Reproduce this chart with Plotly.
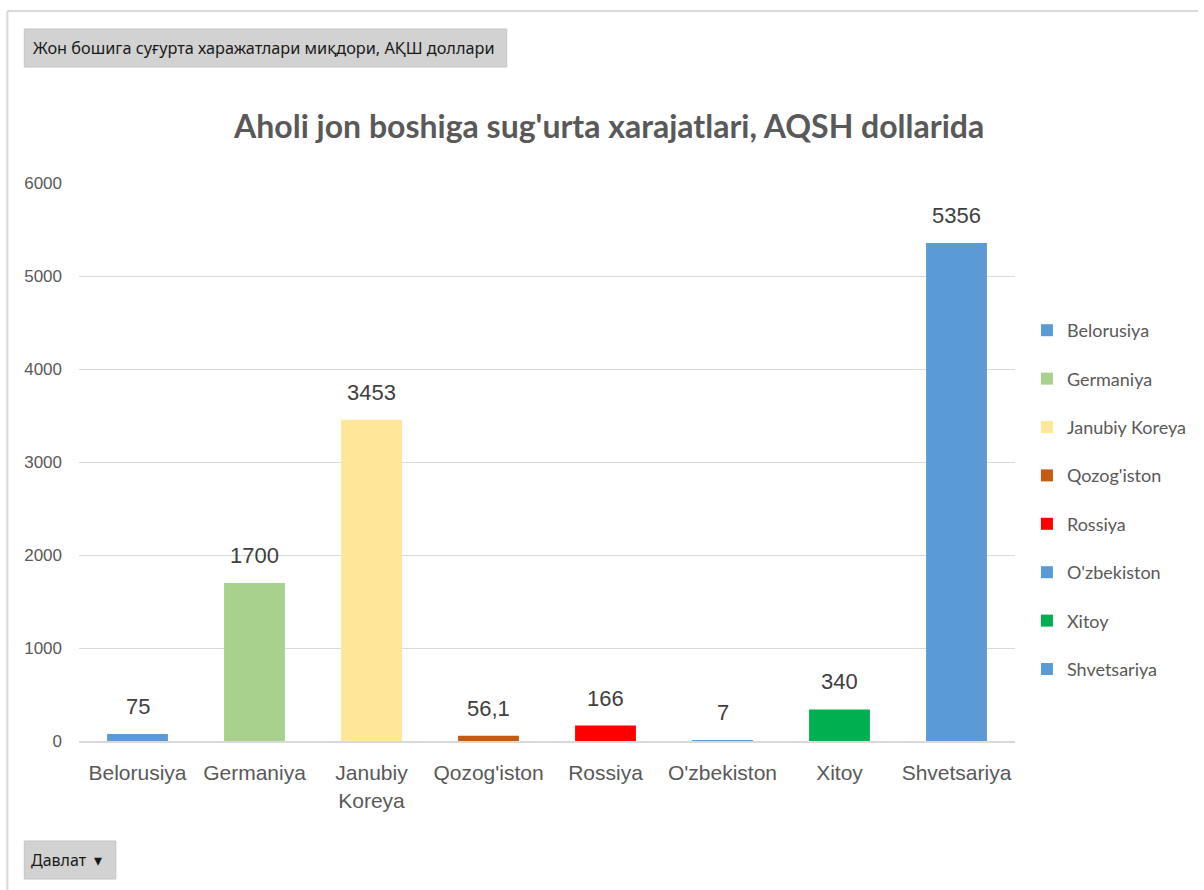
import plotly.graph_objects as go

countries = ["Belorusiya", "Germaniya", "Janubiy Koreya", "Qozog'iston", "Rossiya",
             "O'zbekiston", "Xitoy", "Shvetsariya"]
tick_labels = ["Belorusiya", "Germaniya", "Janubiy<br>Koreya", "Qozog'iston", "Rossiya",
               "O'zbekiston", "Xitoy", "Shvetsariya"]
values = [75, 1700, 3453, 56.1, 166, 7, 340, 5356]
value_labels = ["75", "1700", "3453", "56,1", "166", "7", "340", "5356"]
colors = ["#5b9bd5", "#a9d18e", "#ffe699", "#c55a11", "#ff0000", "#5b9bd5", "#00b050", "#5b9bd5"]

W, H = 1204, 890
L, R, T, B = 79, 184, 183, 149
PW, PH = W - L - R, H - T - B


def px(x):
    return (x - L) / PW


def py(y):
    return (H - B - y) / PH


fig = go.Figure()
for i, c in enumerate(countries):
    fig.add_trace(go.Bar(
        x=[c], y=[values[i]], name=c, legendgroup=c,
        marker=dict(color=colors[i], line=dict(width=0)),
        width=0.52, hoverinfo="x+y",
    ))

annotations = []
for i, c in enumerate(countries):
    annotations.append(dict(
        x=c, y=values[i], xref="x", yref="y", text=value_labels[i],
        showarrow=False, yanchor="bottom", yshift=13,
        font=dict(family="Liberation Sans, Arial", size=22, color="#404040"),
    ))

annotations.append(dict(
    x=px(31), y=py(48), xref="paper", yref="paper", xanchor="left", yanchor="middle",
    text="Жон бошига суғурта харажатлари миқдори, АҚШ доллари", showarrow=False,
    font=dict(family="Liberation Sans Narrow, Arial Narrow, Noto Sans", size=16.3, color="#1a1a1a"),
))
annotations.append(dict(
    x=px(29), y=py(860), xref="paper", yref="paper", xanchor="left", yanchor="middle",
    text="Давлат  ▾", showarrow=False,
    font=dict(family="Liberation Sans Narrow, Arial Narrow, Noto Sans", size=16, color="#1a1a1a"),
))

shapes = [
    dict(type="rect", xref="paper", yref="paper", x0=px(24), x1=px(509), y0=py(29), y1=py(67),
         fillcolor="#d2d2d2", line=dict(color="#c4c4c4", width=1), layer="below"),
    dict(type="rect", xref="paper", yref="paper", x0=px(24), x1=px(116), y0=py(841), y1=py(879),
         fillcolor="#d2d2d2", line=dict(color="#c4c4c4", width=1), layer="below"),
    dict(type="line", xref="paper", yref="paper", x0=px(7), x1=px(1204), y0=py(11), y1=py(11),
         line=dict(color="#d9d9d9", width=2)),
    dict(type="line", xref="paper", yref="paper", x0=px(7), x1=px(7), y0=py(11), y1=py(890),
         line=dict(color="#d9d9d9", width=2)),
]

fig.update_layout(
    width=W, height=H,
    margin=dict(l=L, r=R, t=T, b=B),
    paper_bgcolor="white", plot_bgcolor="white",
    barmode="overlay",
    title=dict(text="<b>Aholi jon boshiga sug'urta xarajatlari, AQSH dollarida</b>",
               x=px(612), xanchor="center", xref="paper", y=1 - 127 / H, yanchor="middle",
               font=dict(family="Lato, Open Sans", size=32, color="#595959")),
    xaxis=dict(tickvals=countries, ticktext=tick_labels, showgrid=False,
               showline=True, linecolor="#d9d9d9", linewidth=2, ticks="",
               ticklabelstandoff=12,
               tickfont=dict(family="Liberation Sans, Arial", size=21, color="#595959"),
               range=[-0.5, 7.5]),
    yaxis=dict(range=[0, 6000], dtick=1000, showgrid=True, gridcolor="#d9d9d9", gridwidth=1,
               zeroline=False, showline=False, ticks="", ticklabelstandoff=16,
               tickfont=dict(family="Liberation Sans, Arial", size=17, color="#595959")),
    legend=dict(x=px(1032), y=py(312), xanchor="left", yanchor="top",
                tracegroupgap=22, itemwidth=30,
                font=dict(family="Lato, Open Sans", size=18, color="#595959")),
    annotations=annotations,
    shapes=shapes,
)

fig.write_html("out.html", post_script="document.body.style.margin='0';",
               config={"displayModeBar": False})
